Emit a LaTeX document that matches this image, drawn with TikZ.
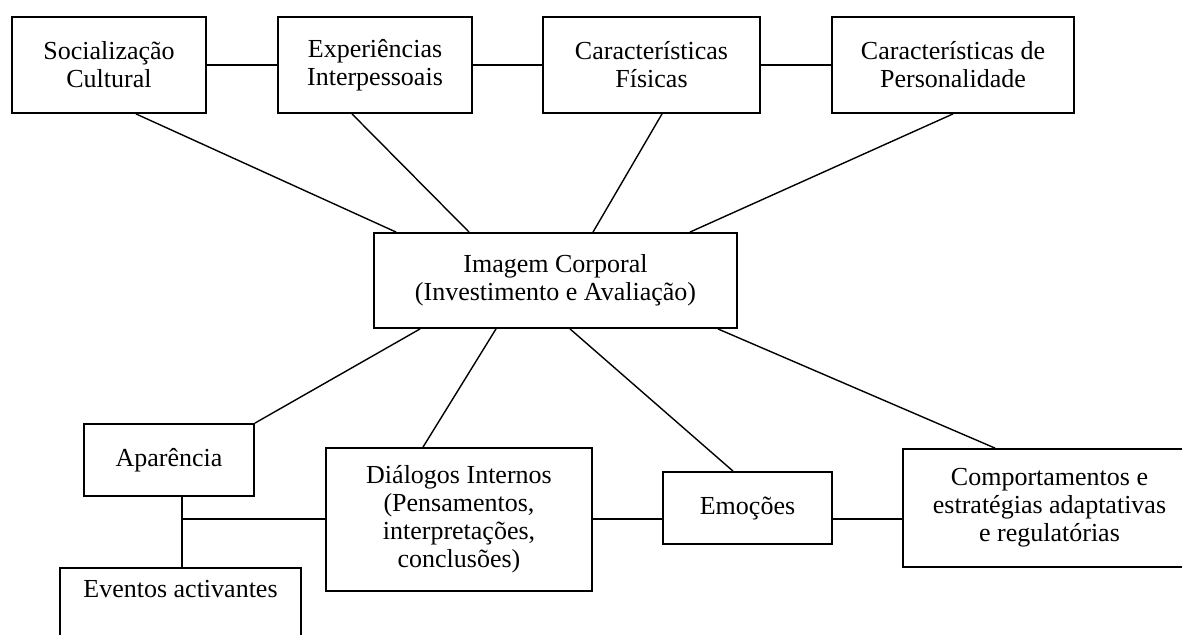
\documentclass[tikz,border=0pt]{standalone}
\usepackage{fontspec}
\setmainfont{Liberation Serif}
\usepackage{tikz}
\usetikzlibrary{positioning, calc}

\begin{document}
\begin{tikzpicture}[x=0.5pt, y=-0.5pt,
  caixa/.style={draw, line width=0.9pt, align=center, inner sep=0pt, font=\fontsize{13}{14}\selectfont},
  texto/.style={inner sep=0pt, font=\fontsize{13}{14}\selectfont},
  liga/.style={line width=0.7pt}]
  \useasboundingbox (0,0) rectangle (1182,634);

  % Factores (linha de cima)
  \node[caixa, minimum width=97pt, minimum height=48pt] (soc) at (109,65) {Socialização\\Cultural};
  \node[caixa, minimum width=97pt, minimum height=48pt] (exp) at (375,65) {Experiências\\Interpessoais};
  \node[caixa, minimum width=108.5pt, minimum height=48pt] (fis) at (651.5,65) {Características\\Físicas};
  \node[caixa, minimum width=121pt, minimum height=48pt] (pers) at (953,65) {Características de\\Personalidade};

  % Imagem corporal
  \node[caixa, minimum width=181.5pt, minimum height=47.5pt] (img) at (555.5,280.5) {Imagem Corporal\\(Investimento e Avaliação)};

  % Processos (linha de baixo)
  \node[caixa, minimum width=85pt, minimum height=36pt] (apar) at (169,460) {Aparência};
  \node[caixa, minimum width=133pt, minimum height=71.5pt] (dial) at (459,519.5) {Diálogos Internos\\(Pensamentos,\\interpretações,\\conclusões)};
  \node[caixa, minimum width=84.5pt, minimum height=36pt] (emo) at (747.5,508) {Emoções};
  \node[caixa, minimum width=146.5pt, minimum height=59pt] (comp) at (1049.5,508) {Comportamentos e\\estratégias adaptativas\\e regulatórias};
  \node[caixa, minimum width=120.5pt, minimum height=45pt, anchor=north] (evt) at (180.5,567) {};
  \node[texto, anchor=base] (evttxt) at ($(evt.north)+(0,30)$) {Eventos activantes};

  % Ligacoes entre factores
  \draw[liga] (soc) -- (exp);
  \draw[liga] (exp) -- (fis);
  \draw[liga] (fis) -- (pers);

  % Factores -> imagem corporal
  \draw[liga] ($(soc.south)+(27,0)$) -- ($(img.north west)+(23,0)$);
  \draw[liga] ($(exp.south)+(-23,0)$) -- ($(img.north west)+(96,0)$);
  \draw[liga] ($(fis.south)+(10.5,0)$) -- ($(img.north)+(37.5,0)$);
  \draw[liga] (pers.south) -- ($(img.north east)+(-48,0)$);

  % Imagem corporal -> processos
  \draw[liga] ($(img.south west)+(47,0)$) -- (apar.north east);
  \draw[liga] ($(img.south)+(-59.5,0)$) -- ($(dial.north)+(-36,0)$);
  \draw[liga] ($(img.south)+(14.5,0)$) -- ($(emo.north)+(-14.5,0)$);
  \draw[liga] ($(img.south east)+(-20,0)$) -- ($(comp.north)+(-54.5,0)$);

  % Cadeia de baixo
  \coordinate (jn) at (182,519);
  \draw[liga] (apar.south -| jn) -- (evt.north -| jn);
  \draw[liga] (jn) -- (dial.west |- jn);
  \draw[liga] (dial.east |- jn) -- (emo.west |- jn);
  \draw[liga] (emo.east |- jn) -- (comp.west |- jn);
\end{tikzpicture}
\end{document}
